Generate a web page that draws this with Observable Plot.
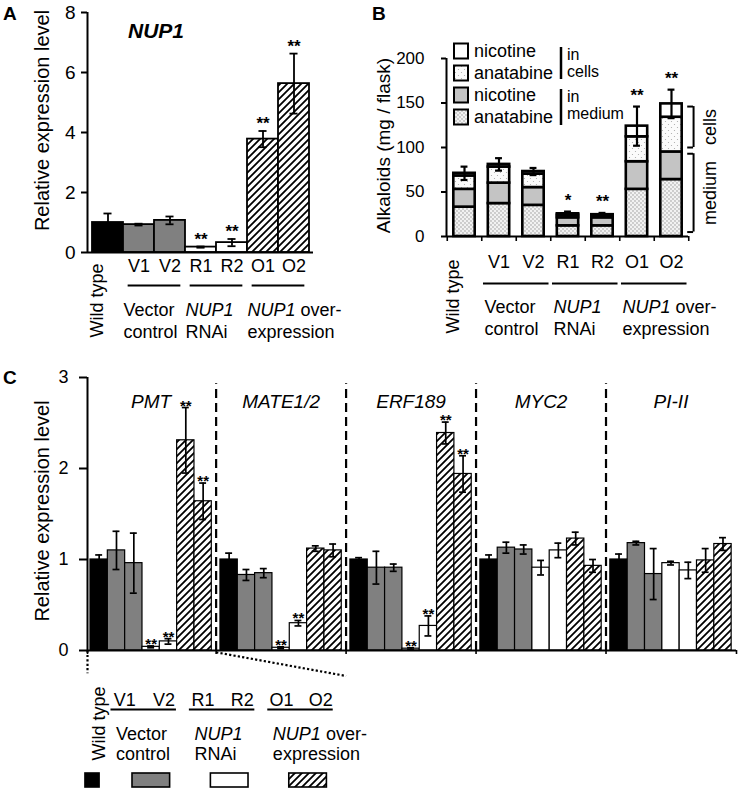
<!DOCTYPE html>
<html>
<head>
<meta charset="utf-8">
<script src="https://cdn.jsdelivr.net/npm/d3@7"></script>
<script src="https://cdn.jsdelivr.net/npm/@observablehq/plot@0.6"></script>
<style>
  body { margin: 0; background: #fff; }
  #fig { position: relative; width: 740px; height: 790px; overflow: hidden; background: #fff;
         font-family: "Liberation Sans", Arial, Helvetica, sans-serif; color: #000; }
  #fig > * { position: absolute; }
  .letter { font-weight: bold; font-size: 19px; line-height: 1; }
  .title { font-weight: bold; font-style: italic; font-size: 21px; line-height: 1; }
</style>
</head>
<body>
<svg width="0" height="0" style="position:absolute">
  <defs>
    <pattern id="hatch" patternUnits="userSpaceOnUse" width="7" height="7">
      <rect width="7" height="7" fill="white"/>
      <path d="M-1,1 l2,-2 M0,7 l7,-7 M6,8 l2,-2" stroke="black" stroke-width="1.8"/>
    </pattern>
    <pattern id="dotsMed" patternUnits="userSpaceOnUse" width="4" height="4">
      <rect width="4" height="4" fill="#f2f2f2"/>
      <circle cx="1" cy="1" r="0.65" fill="#8a8a8a"/>
      <circle cx="3" cy="3" r="0.65" fill="#8a8a8a"/>
    </pattern>
    <pattern id="dotsCell" patternUnits="userSpaceOnUse" width="6" height="6">
      <rect width="6" height="6" fill="#fbfbfb"/>
      <circle cx="1.5" cy="1.5" r="0.6" fill="#a8a8a8"/>
      <circle cx="4.5" cy="4.5" r="0.6" fill="#a8a8a8"/>
    </pattern>
  </defs>
</svg>
<div id="fig"></div>
<script>
// ---------------- DATA ----------------
const lines = ["Wild type", "V1", "V2", "R1", "R2", "O1", "O2"];
const lineGroup = ["wt", "vector", "vector", "rnai", "rnai", "over", "over"];
const groupKeys = ["vector", "rnai", "over"];
const groupLabels = ["Vector\ncontrol", "NUP1\nRNAi", "NUP1 over-\nexpression"];

// Panel A: NUP1 relative expression
const nup1Level = [1.00, 0.93, 1.07, 0.18, 0.33, 3.78, 5.63];
const nup1Err   = [0.30, 0.03, 0.13, 0.02, 0.12, 0.27, 1.00];
const nup1Sig   = ["", "", "", "**", "**", "**", "**"];

// Panel B: alkaloids (mg / flask)
const alkaloids = ["anatabine", "nicotine"];
const fractions = ["medium", "cells"];
const anatabineMedium = [33, 37, 35, 12, 12, 53, 64];
const nicotineMedium  = [20, 23, 20, 9, 9, 31, 31];
const anatabineCells  = [15, 18, 15, 3, 2.5, 28, 39];
const nicotineCells   = [3, 3, 3, 1.5, 1, 12, 15];
const alkErr = [7.5, 7, 4, 2.5, 2, 22, 16];
const alkSig = ["", "", "", "*", "**", "**", "**"];

// Panel C: relative expression of genes
const genes = ["PMT", "MATE1/2", "ERF189", "MYC2", "PI-II"];
const pmtLevel  = [1.00, 1.10, 0.96, 0.04, 0.10, 2.31, 1.64];
const pmtErr    = [0.05, 0.21, 0.33, 0.01, 0.03, 0.36, 0.20];
const mateLevel = [1.00, 0.83, 0.85, 0.03, 0.30, 1.12, 1.10];
const mateErr   = [0.07, 0.06, 0.05, 0.01, 0.03, 0.03, 0.07];
const erfLevel  = [1.00, 0.91, 0.91, 0.02, 0.27, 2.39, 1.94];
const erfErr    = [0.02, 0.18, 0.04, 0.01, 0.11, 0.12, 0.20];
const mycLevel  = [1.00, 1.13, 1.11, 0.91, 1.10, 1.23, 0.93];
const mycErr    = [0.05, 0.06, 0.05, 0.08, 0.08, 0.07, 0.07];
const piLevel   = [1.00, 1.18, 0.84, 0.96, 0.88, 0.99, 1.17];
const piErr     = [0.06, 0.02, 0.28, 0.02, 0.09, 0.13, 0.07];
const pmtSig  = ["", "", "", "**", "**", "**", "**"];
const mateSig = ["", "", "", "**", "**", "", ""];
const erfSig  = ["", "", "", "**", "**", "**", "**"];
const mycSig  = ["", "", "", "", "", "", ""];
const piSig   = ["", "", "", "", "", "", ""];

// ---------------- HELPERS ----------------
const FONT = "'Liberation Sans', Arial, Helvetica, sans-serif";
const fig = document.getElementById("fig");
function place(el, left, top) { el.style.left = left + "px"; el.style.top = top + "px"; fig.appendChild(el); return el; }
function baseStyle(size) { return {fontFamily: FONT, fontSize: size + "px", color: "black", background: "transparent", overflow: "visible"}; }
function italicize(root, word) {
  const walker = document.createTreeWalker(root, NodeFilter.SHOW_TEXT);
  const nodes = [];
  while (walker.nextNode()) nodes.push(walker.currentNode);
  for (const n of nodes) {
    const t = n.nodeValue, k = t.indexOf(word);
    if (k < 0) continue;
    const frag = document.createDocumentFragment();
    if (k > 0) frag.appendChild(document.createTextNode(t.slice(0, k)));
    const ts = document.createElementNS("http://www.w3.org/2000/svg", "tspan");
    ts.setAttribute("font-style", "italic");
    ts.textContent = word;
    frag.appendChild(ts);
    const rest = t.slice(k + word.length);
    if (rest) frag.appendChild(document.createTextNode(rest));
    n.parentNode.replaceChild(frag, n);
  }
  return root;
}
function htmlText(text, cls, left, top) {
  const d = document.createElement("div"); d.className = cls; d.textContent = text; return place(d, left, top);
}
const intFmt = d => String(d);

const groups = groupKeys.map((key, g) => ({key, label: groupLabels[g], first: lineGroup.indexOf(key), last: lineGroup.lastIndexOf(key)}));
const typeColor = {type: "ordinal", domain: ["wt", "vector", "rnai", "over"], range: ["black", "#808080", "white", "url(#hatch)"]};

// ---------------- PANEL A ----------------
const aData = lines.map((line, i) => ({i, line, type: lineGroup[i], v: nup1Level[i], e: nup1Err[i], sig: nup1Sig[i]}));
const xA = [-0.161, 7.129];
const plotA = Plot.plot({
  width: 370, height: 345, marginLeft: 87, marginRight: 57, marginTop: 12, marginBottom: 93,
  style: baseStyle(18),
  x: {domain: xA, axis: null},
  y: {domain: [0, 8], axis: null},
  color: typeColor,
  marks: [
    Plot.rect(aData, {x1: "i", x2: d => d.i + 1, y1: 0, y2: "v", fill: "type", stroke: "black", strokeWidth: 1.8}),
    Plot.ruleX(aData, {x: d => d.i + 0.5, y1: d => d.v - d.e, y2: d => d.v + d.e, strokeWidth: 1.8}),
    Plot.ruleY(aData, {y: d => d.v + d.e, x1: d => d.i + 0.37, x2: d => d.i + 0.63, strokeWidth: 1.8}),
    Plot.ruleY(aData, {y: d => d.v - d.e, x1: d => d.i + 0.37, x2: d => d.i + 0.63, strokeWidth: 1.8}),
    Plot.text(aData.filter(d => d.sig), {x: d => d.i + 0.5, y: d => d.v + d.e, text: "sig", lineAnchor: "bottom", dy: -2, fontSize: 17, fontWeight: "bold"}),
    Plot.ruleX([xA[0]], {strokeWidth: 2}),
    Plot.ruleY([0], {strokeWidth: 2}),
    Plot.axisY({ticks: [0, 2, 4, 6, 8], tickFormat: intFmt, tickSize: 6, tickPadding: 6, strokeWidth: 2, fontSize: 19, label: null}),
    Plot.text(["Relative expression level"], {text: d => d, frameAnchor: "left", textAnchor: "middle", lineAnchor: "middle", rotate: -90, dx: -45, dy: -12, fontSize: 20}),
    Plot.text(aData.slice(1), {x: d => d.i + 0.5, text: "line", frameAnchor: "bottom", dy: 19, fontSize: 18}),
    Plot.text(aData.slice(0, 1), {x: d => d.i + 0.5, text: "line", frameAnchor: "bottom", dy: 48, dx: -5, rotate: -90, fontSize: 18}),
    Plot.ruleY(groups, {x1: d => d.first + 0.15, x2: d => d.last + 0.85, y: 0, dy: 33, strokeWidth: 2.2}),
    Plot.text(groups, {x: d => d.first, text: "label", frameAnchor: "bottom", dy: 67, textAnchor: "start", lineAnchor: "middle", lineHeight: 1.22, fontSize: 18})
  ]
});
place(italicize(plotA, "NUP1"), 0, 0);

// ---------------- PANEL B ----------------
const compKeys = [];
const compVals = {"anatabine in medium": anatabineMedium, "nicotine in medium": nicotineMedium,
                  "anatabine in cells": anatabineCells, "nicotine in cells": nicotineCells};
for (const f of fractions) for (const a of alkaloids) compKeys.push(a + " in " + f);
const compFill = {type: "ordinal", domain: compKeys, range: ["url(#dotsMed)", "#c4c4c4", "url(#dotsCell)", "white"]};
const bStack = lines.flatMap((line, i) => {
  let c = 0;
  return compKeys.map(k => { const v = compVals[k][i]; const d = {i, comp: k, y1: c, y2: c + v}; c += v; return d; });
});
const bData = lines.map((line, i) => {
  const total = d3.sum(compKeys, k => compVals[k][i]);
  const medium = d3.sum(alkaloids, a => compVals[a + " in medium"][i]);
  return {i, line, total, medium, e: alkErr[i], sig: alkSig[i]};
});
const last = bData[bData.length - 1];
const brackets = [
  {label: "cells", y1: last.medium + 5, y2: last.total - 3},
  {label: "medium", y1: 5, y2: last.medium - 2}
];
const bx = lines.length - 1 + 0.64;
const xB = [-0.522, 6.493];
const plotB = Plot.plot({
  width: 370, height: 345, marginLeft: 76, marginRight: 52, marginTop: 58, marginBottom: 109,
  style: baseStyle(17),
  x: {domain: xB, axis: null},
  y: {domain: [0, 200], axis: null},
  color: compFill,
  marks: [
    Plot.rect(bStack, {x1: d => d.i - 0.31, x2: d => d.i + 0.31, y1: "y1", y2: "y2", fill: "comp", stroke: "black", strokeWidth: 2.6}),
    Plot.ruleX(bData, {x: "i", y1: d => d.total - d.e, y2: d => d.total + d.e, strokeWidth: 2.2}),
    Plot.ruleY(bData, {y: d => d.total + d.e, x1: d => d.i - 0.1, x2: d => d.i + 0.1, strokeWidth: 2.2}),
    Plot.ruleY(bData, {y: d => d.total - d.e, x1: d => d.i - 0.1, x2: d => d.i + 0.1, strokeWidth: 2.2}),
    Plot.text(bData.filter(d => d.sig), {x: "i", y: d => d.total + d.e, text: "sig", lineAnchor: "bottom", dy: -6, fontSize: 17, fontWeight: "bold"}),
    Plot.ruleX([xB[0]], {strokeWidth: 2}),
    Plot.ruleY([0], {strokeWidth: 2}),
    Plot.axisX({ticks: d3.range(-0.5, lines.length, 1), tickFormat: () => "", tickSize: 5, strokeWidth: 1.6, label: null}),
    Plot.axisY({ticks: [0, 50, 100, 150, 200], tickFormat: intFmt, tickSize: 5, tickPadding: 17, strokeWidth: 2, fontSize: 17, label: null}),
    Plot.text(["Alkaloids (mg / flask)"], {text: d => d, frameAnchor: "left", textAnchor: "middle", lineAnchor: "middle", rotate: -90, dx: -63, dy: -2, fontSize: 19}),
    Plot.text(bData.slice(1), {x: "i", text: "line", frameAnchor: "bottom", dy: 31, fontSize: 18}),
    Plot.text(bData.slice(0, 1), {x: "i", text: "line", frameAnchor: "bottom", dy: 60, dx: -6, rotate: -90, fontSize: 18}),
    Plot.ruleY(groups, {x1: d => d.first - 0.45, x2: d => d.last + 0.45, y: 0, dy: 47, strokeWidth: 2.2}),
    Plot.text(groups, {x: d => d.first - 0.42, text: "label", frameAnchor: "bottom", dy: 80, textAnchor: "start", lineAnchor: "middle", lineHeight: 1.22, fontSize: 18}),
    Plot.ruleX(brackets, {x: bx, y1: "y1", y2: "y2", strokeWidth: 2}),
    Plot.ruleY(brackets, {y: "y1", x1: bx - 0.17, x2: bx, strokeWidth: 2}),
    Plot.ruleY(brackets, {y: "y2", x1: bx - 0.17, x2: bx, strokeWidth: 2}),
    Plot.text(brackets, {x: bx, y: d => (d.y1 + d.y2) / 2, text: "label", rotate: -90, dx: 17, fontSize: 18})
  ]
});
place(italicize(plotB, "NUP1"), 370, 0);

// Legend of panel B
(function () {
  const svg = d3.create("svg").attr("width", 210).attr("height", 92)
    .style("font-family", FONT).style("font-size", "18px").style("overflow", "visible");
  const rows = [...compKeys].reverse();
  const fillOf = k => compFill.range[compFill.domain.indexOf(k)];
  rows.forEach((k, r) => {
    const cy = 13 + r * 22;
    svg.append("rect").attr("x", 9).attr("y", cy - 7.5).attr("width", 14).attr("height", 15)
      .attr("fill", fillOf(k)).attr("stroke", "black").attr("stroke-width", 2);
    svg.append("text").attr("x", 29).attr("y", cy).attr("dy", "0.32em").text(k.split(" in ")[0]);
  });
  [...fractions].reverse().forEach((f, j) => {
    const top = 9 + j * 42, bottom = top + 32 + j * 4;
    svg.append("line").attr("x1", 116).attr("x2", 116).attr("y1", top).attr("y2", bottom)
      .attr("stroke", "black").attr("stroke-width", 2.5);
    svg.append("text").attr("x", 122).attr("y", top + 8).attr("dy", "0.32em").style("font-size", "16px").text("in");
    svg.append("text").attr("x", 122).attr("y", top + 25).attr("dy", "0.32em").style("font-size", "16px").text(f);
  });
  place(svg.node(), 445, 38);
})();

// ---------------- PANEL C ----------------
const cVals = [pmtLevel, mateLevel, erfLevel, mycLevel, piLevel];
const cErrs = [pmtErr, mateErr, erfErr, mycErr, piErr];
const cSigs = [pmtSig, mateSig, erfSig, mycSig, piSig];
const period = lines.length + 0.5;
const cData = genes.flatMap((gene, g) => lines.map((line, i) => ({
  g, i, x0: g * period + i, type: lineGroup[i], v: cVals[g][i], e: cErrs[g][i], sig: cSigs[g][i]
})));
const dashes = d3.range(1, genes.length).map(g => g * period - 0.25);
const xC = [-0.173, 37.28];
const plotC = Plot.plot({
  width: 740, height: 320, marginLeft: 87, marginRight: 4, marginTop: 17, marginBottom: 30,
  style: baseStyle(18),
  x: {domain: xC, axis: null},
  y: {domain: [0, 3], axis: null},
  color: typeColor,
  marks: [
    Plot.rect(cData, {x1: "x0", x2: d => d.x0 + 1, y1: 0, y2: "v", fill: "type", stroke: "black", strokeWidth: 1.2}),
    Plot.ruleX(cData, {x: d => d.x0 + 0.5, y1: d => d.v - d.e, y2: d => d.v + d.e, strokeWidth: 1.7}),
    Plot.ruleY(cData, {y: d => d.v + d.e, x1: d => d.x0 + 0.3, x2: d => d.x0 + 0.7, strokeWidth: 1.7}),
    Plot.ruleY(cData, {y: d => d.v - d.e, x1: d => d.x0 + 0.3, x2: d => d.x0 + 0.7, strokeWidth: 1.7}),
    Plot.text(cData.filter(d => d.sig), {x: d => d.x0 + 0.5, y: d => d.v + d.e, text: "sig", lineAnchor: "bottom", dy: 3, fontSize: 15, fontWeight: "bold"}),
    Plot.ruleX(dashes, {y1: 0, y2: 2.93, strokeDasharray: "9,5", strokeWidth: 2.2}),
    Plot.text(genes, {x: (d, k) => k * period + 3.5, text: d => d, frameAnchor: "top", dy: 17, fontStyle: "italic", fontSize: 19}),
    Plot.ruleX([xC[0]], {strokeWidth: 2}),
    Plot.ruleY([0], {strokeWidth: 2}),
    Plot.axisX({ticks: [xC[0], ...dashes, xC[1]], tickFormat: () => "", tickSize: 4, strokeWidth: 1.6, label: null}),
    Plot.axisY({ticks: [0, 1, 2, 3], tickFormat: intFmt, tickSize: 8, tickPadding: 11, strokeWidth: 2, fontSize: 18, label: null}),
    Plot.text(["Relative expression level"], {text: d => d, frameAnchor: "left", textAnchor: "middle", lineAnchor: "middle", rotate: -90, dx: -45, dy: -3, fontSize: 20}),
    Plot.link([{x1: xC[0], x2: xC[0], y1: 0, y2: -0.25}, {x1: dashes[0], x2: dashes[1], y1: -0.02, y2: -0.28}],
      {x1: "x1", x2: "x2", y1: "y1", y2: "y2", strokeDasharray: "2.2,2.2", strokeWidth: 2.2})
  ]
});
place(plotC, 0, 360);

// Key below panel C
const keySwatches = [{type: "wt", x1: -0.18, x2: 0.18}]
  .concat(groups.map(g => ({type: g.key, x1: (g.first + g.last) / 2 - 0.48, x2: (g.first + g.last) / 2 + 0.48})));
const keyLines = lines.map((line, i) => ({i, line}));
const plotK = Plot.plot({
  width: 370, height: 135, marginLeft: 80, marginRight: 25, marginTop: 118, marginBottom: 3,
  style: baseStyle(18),
  x: {domain: [-0.128, 6.633], axis: null},
  y: {domain: [0, 1], axis: null},
  color: typeColor,
  marks: [
    Plot.text(keyLines.slice(1), {x: "i", text: "line", frameAnchor: "top", dy: -80, fontSize: 18}),
    Plot.text(keyLines.slice(0, 1), {x: "i", text: "line", frameAnchor: "top", dy: -50, dx: 7, rotate: -90, fontSize: 18}),
    Plot.ruleY(groups, {x1: d => d.first - 0.35, x2: d => d.last + 0.32, y: 1, dy: -64, strokeWidth: 2.2}),
    Plot.text(groups, {x: d => d.first - 0.22, text: "label", frameAnchor: "top", dy: -30, textAnchor: "start", lineAnchor: "middle", lineHeight: 1.11, fontSize: 18}),
    Plot.rect(keySwatches, {x1: "x1", x2: "x2", fill: "type", stroke: "black", strokeWidth: 1.6, dx: 7})
  ]
});
place(italicize(plotK, "NUP1"), 0, 655);

// Panel letters and title
htmlText("A", "letter", 3, 4);
htmlText("B", "letter", 372, 4);
htmlText("C", "letter", 3, 368);
htmlText("NUP1", "title", 128, 20);
</script>
</body>
</html>
